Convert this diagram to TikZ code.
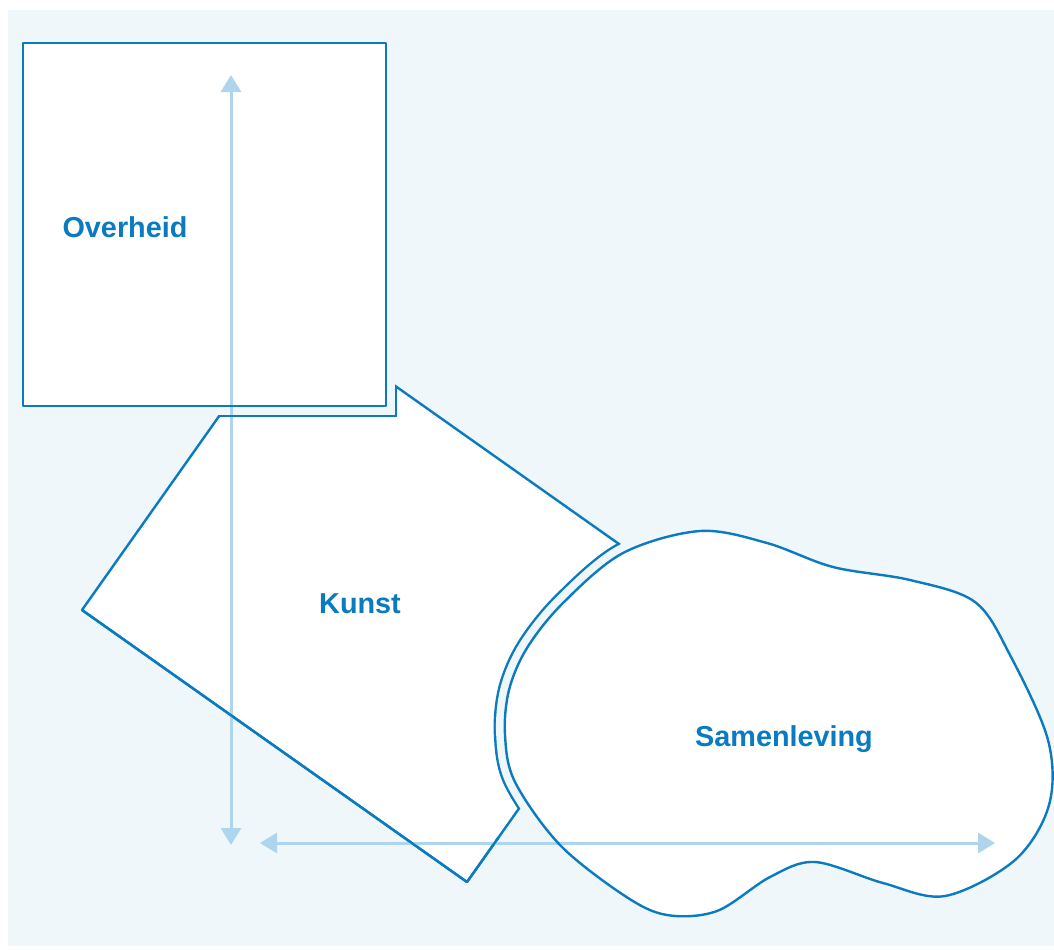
\documentclass[tikz,border=0pt]{standalone}
\usepackage{fontspec}
\setmainfont{Liberation Sans}
\usepackage{xcolor}
\definecolor{kublue}{HTML}{0A7BC1}
\definecolor{kubg}{HTML}{EFF7FB}
\definecolor{kuarrow}{HTML}{AED5EE}
\usetikzlibrary{arrows.meta,calc}
\tikzset{
  every picture/.style={line join=round},
  lbl/.style={font=\fontsize{14.4}{17}\selectfont\bfseries, text=kublue, anchor=base},
  outline/.style={draw=kublue, line width=1.2pt},
  axisarrow/.style={kuarrow, line width=1.5pt,
    {Triangle[length=8.5pt,width=10pt]}-{Triangle[length=8.5pt,width=10pt]}},
  gapring/.style={draw=kublue, line width=11.2pt},
  gapfill/.style={draw=kubg, line width=8.8pt},
}
\newcommand{\blobpath}{plot[smooth cycle, tension=0.55] coordinates {
  (505,735) (509,690) (527,648) (563,603) (623,553) (700,531) (767,543)
  (833,567) (910,580) (975,602) (1010,655) (1048,740) (1049,805)
  (1015,860) (945,896) (883,883) (815,862) (770,877) (717,911) (667,915)
  (625,896) (560,845) (515,782)}}
\newcommand{\govpath}{(23,43) rectangle (386,406)}

\begin{document}
\begin{tikzpicture}[x=0.5pt, y=-0.5pt]
\useasboundingbox (0,0) rectangle (1054,949);
\fill[kubg] (8,10) rectangle (1054,946);
% Kunst
\coordinate (kA) at (82,610);
\coordinate (kB) at (467,882);
\coordinate (kC) at (677,585);
\coordinate (kD) at (292,313);
\path[outline, fill=white] (kA) -- (kB) -- (kC) -- (kD) -- cycle;
% gaps round Overheid and Samenleving
\begin{scope}
  \clip (kA) -- (kB) -- (kC) -- (kD) -- cycle;
  \draw[gapring, line join=miter] \govpath;
  \draw[gapring] \blobpath;
\end{scope}
\draw[gapfill, line join=miter] \govpath;
\draw[gapfill] \blobpath;
\fill[white] \govpath;
\fill[white] \blobpath;
% axes
\coordinate (vtop) at (231,75);
\coordinate (vbot) at (231,845);
\coordinate (hleft) at (260,843);
\coordinate (hright) at (995,843);
\draw[axisarrow] (vbot) -- (vtop);
\draw[axisarrow] (hleft) -- (hright);
% outlines over the axes
\begin{scope}
  \clip (kA) -- (kB) -- (kC) -- (kD) -- cycle;
  \draw[outline, line join=miter] (13,33) rectangle (396,416);
\end{scope}
\draw[outline] \govpath;
\draw[outline] \blobpath;
\draw[outline] (kA) -- (kB) -- ($(kB)!0.15!(kC)$);
% labels
\node[lbl] (overheid) at (125,237) {Overheid};
\node[lbl] (kunst) at (360,613) {Kunst};
\node[lbl] (samenleving) at (784,746) {Samenleving};
\end{tikzpicture}
\end{document}
